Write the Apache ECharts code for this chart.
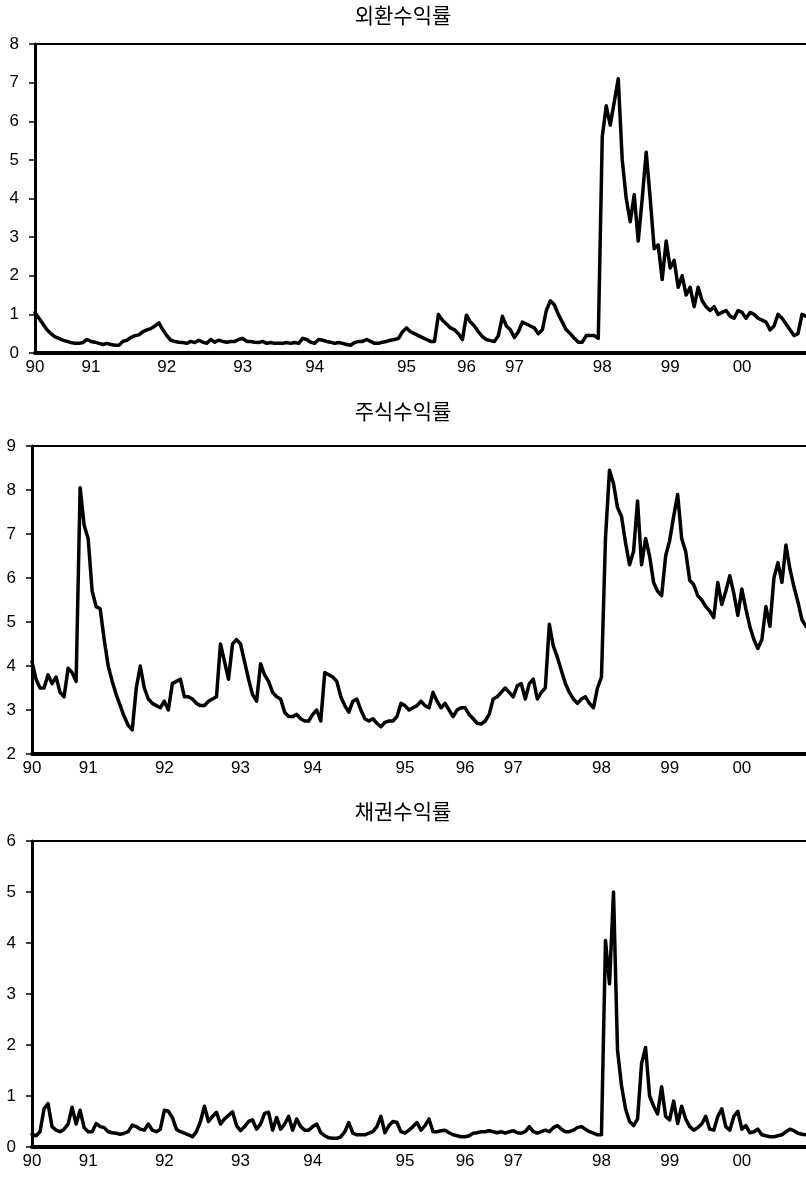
<!DOCTYPE html>
<html>
<head>
<meta charset="utf-8">
<script src="https://cdn.jsdelivr.net/npm/echarts@6/dist/echarts.min.js"></script>
<style>
html,body{margin:0;padding:0;background:#fff;}
#chart{width:806px;height:1177px;}
</style>
</head>
<body>
<div id="chart"></div>
<script>
// Observation index ticks and year labels
const tickIdx = [0, 14, 33, 52, 70, 93, 108, 120, 142, 159, 177];
const tickLabels = ['90', '91', '92', '93', '94', '95', '96', '97', '98', '99', '00'];

const titles = ['외환수익률', '주식수익률', '채권수익률'];

// 외환수익률
const fxValues = [
  1.05,0.9,0.75,0.6,0.5,0.42,0.38,0.33,0.3,0.27,
  0.25,0.25,0.27,0.35,0.3,0.28,0.25,0.22,0.25,0.22,
  0.2,0.2,0.3,0.33,0.4,0.45,0.47,0.55,0.6,0.63,
  0.7,0.78,0.6,0.45,0.33,0.3,0.28,0.27,0.25,0.3,
  0.27,0.33,0.28,0.25,0.35,0.28,0.33,0.3,0.28,0.3,
  0.3,0.35,0.38,0.3,0.3,0.28,0.27,0.3,0.25,0.27,
  0.25,0.25,0.25,0.27,0.25,0.27,0.25,0.38,0.35,0.28,
  0.25,0.35,0.33,0.3,0.28,0.25,0.27,0.25,0.22,0.2,
  0.27,0.3,0.3,0.35,0.3,0.25,0.25,0.28,0.3,0.33,
  0.35,0.38,0.55,0.65,0.55,0.5,0.45,0.4,0.35,0.3,
  0.3,1.0,0.85,0.75,0.65,0.6,0.5,0.35,0.98,0.8,
  0.7,0.55,0.42,0.35,0.32,0.3,0.45,0.95,0.7,0.6,
  0.4,0.55,0.8,0.75,0.7,0.65,0.5,0.6,1.1,1.35,
  1.25,1.0,0.8,0.6,0.5,0.38,0.28,0.28,0.45,0.45,
  0.45,0.38,5.6,6.4,5.9,6.5,7.1,5.0,4.0,3.4,
  4.1,2.9,4.0,5.2,4.0,2.7,2.8,1.9,2.9,2.2,
  2.4,1.7,2.0,1.5,1.7,1.2,1.7,1.35,1.2,1.1,
  1.2,1.0,1.05,1.1,0.95,0.9,1.1,1.05,0.9,1.05,
  1.0,0.9,0.85,0.8,0.6,0.7,1.0,0.9,0.75,0.6,
  0.45,0.5,1.0,0.95
];

// 주식수익률
const stockValues = [
  4.1,3.7,3.5,3.5,3.8,3.6,3.75,3.4,3.3,3.95,
  3.85,3.65,8.05,7.2,6.9,5.7,5.35,5.3,4.6,4.0,
  3.65,3.35,3.1,2.85,2.65,2.55,3.5,4.0,3.5,3.25,
  3.15,3.1,3.05,3.2,3.0,3.6,3.65,3.7,3.3,3.3,
  3.25,3.15,3.1,3.1,3.2,3.25,3.3,4.5,4.1,3.7,
  4.5,4.6,4.5,4.1,3.7,3.35,3.2,4.05,3.8,3.65,
  3.4,3.3,3.25,2.95,2.85,2.85,2.9,2.8,2.75,2.75,
  2.9,3.0,2.75,3.85,3.8,3.75,3.65,3.3,3.1,2.95,
  3.2,3.25,3.0,2.8,2.75,2.8,2.7,2.62,2.72,2.75,
  2.75,2.85,3.15,3.1,3.0,3.05,3.1,3.2,3.1,3.05,
  3.4,3.2,3.05,3.15,3.0,2.85,3.0,3.05,3.05,2.9,
  2.8,2.7,2.68,2.75,2.9,3.25,3.3,3.4,3.5,3.4,
  3.3,3.55,3.6,3.25,3.6,3.7,3.25,3.4,3.5,4.95,
  4.45,4.2,3.9,3.6,3.4,3.25,3.15,3.25,3.3,3.15,
  3.05,3.5,3.75,6.9,8.45,8.15,7.6,7.4,6.8,6.3,
  6.6,7.75,6.3,6.9,6.5,5.9,5.7,5.6,6.5,6.85,
  7.4,7.9,6.9,6.6,5.95,5.85,5.6,5.5,5.35,5.25,
  5.1,5.9,5.4,5.7,6.05,5.65,5.15,5.75,5.3,4.9,
  4.6,4.4,4.6,5.35,4.9,6.0,6.35,5.9,6.75,6.2,
  5.8,5.45,5.05,4.9
];

// 채권수익률
const bondValues = [
  0.25,0.22,0.3,0.75,0.85,0.4,0.33,0.3,0.35,0.45,
  0.78,0.45,0.72,0.38,0.3,0.3,0.46,0.4,0.38,0.3,
  0.28,0.27,0.25,0.27,0.3,0.43,0.4,0.35,0.33,0.45,
  0.33,0.3,0.35,0.72,0.7,0.58,0.35,0.3,0.27,0.24,
  0.2,0.3,0.5,0.8,0.5,0.6,0.68,0.45,0.55,0.62,
  0.69,0.42,0.32,0.4,0.5,0.53,0.35,0.45,0.66,0.68,
  0.33,0.58,0.35,0.45,0.6,0.33,0.55,0.4,0.33,0.33,
  0.4,0.45,0.28,0.22,0.18,0.17,0.17,0.2,0.3,0.48,
  0.27,0.24,0.24,0.24,0.27,0.3,0.4,0.6,0.28,0.42,
  0.5,0.48,0.3,0.27,0.33,0.4,0.48,0.33,0.42,0.55,
  0.3,0.3,0.32,0.33,0.28,0.24,0.22,0.2,0.2,0.22,
  0.27,0.28,0.3,0.3,0.32,0.3,0.28,0.3,0.27,0.3,
  0.32,0.28,0.27,0.3,0.4,0.3,0.27,0.3,0.33,0.3,
  0.38,0.42,0.35,0.3,0.3,0.33,0.38,0.4,0.35,0.3,
  0.27,0.24,0.24,4.05,3.2,5.0,1.9,1.2,0.75,0.5,
  0.42,0.55,1.64,1.95,1.0,0.8,0.65,1.18,0.6,0.53,
  0.9,0.46,0.8,0.55,0.4,0.33,0.38,0.45,0.6,0.35,
  0.33,0.6,0.75,0.4,0.33,0.6,0.7,0.35,0.42,0.28,
  0.3,0.35,0.24,0.22,0.2,0.2,0.22,0.24,0.3,0.35,
  0.32,0.27,0.25,0.24
];

const yRanges = [[0, 8], [2, 9], [0, 6]];
const seriesList = [fxValues, stockValues, bondValues];

// categories built from tick labels
const nObs = fxValues.length;
const categories = [];
for (let i = 0; i < nObs; i++) {
  const k = tickIdx.indexOf(i);
  categories.push(k >= 0 ? tickLabels[k] : '');
}
const tickSet = new Set(tickIdx);

const grids = [
  {left: 35, right: 0, top: 44, height: 309},
  {left: 32, right: 0, top: 446, height: 308},
  {left: 32, right: 0, top: 841, height: 306}
];
const titleTops = [5, 401, 801];

const labelFont = {fontFamily: 'Liberation Sans, Arial, sans-serif', fontSize: 17, color: '#000'};

const option = {
  backgroundColor: '#fff',
  animation: false,
  title: titles.map((t, k) => ({
    text: t, left: 'center', top: titleTops[k], padding: 0,
    textStyle: {fontFamily: 'Noto Sans CJK KR', fontSize: 21, fontWeight: 'normal', color: '#000'}
  })),
  grid: grids.map(g => Object.assign({outerBoundsMode: 'none', containLabel: false}, g)),
  xAxis: [],
  yAxis: [],
  series: []
};

for (let k = 0; k < 3; k++) {
  option.xAxis.push({
    type: 'category', gridIndex: k, data: categories, boundaryGap: false,
    axisLine: {show: true, lineStyle: {color: '#000', width: 4}},
    axisTick: {show: false},
    axisLabel: Object.assign({interval: (idx) => tickSet.has(idx), margin: 6}, labelFont),
    splitLine: {show: false}
  });
  option.xAxis.push({
    type: 'value', gridIndex: k, position: 'top', min: 0, max: 1,
    axisLine: {show: true, onZero: false, lineStyle: {color: '#000', width: 2}},
    axisTick: {show: false}, axisLabel: {show: false}, splitLine: {show: false}
  });
  option.yAxis.push({
    type: 'value', gridIndex: k, min: yRanges[k][0], max: yRanges[k][1], interval: 1,
    axisLine: {show: true, onZero: false, lineStyle: {color: '#000', width: 3}},
    axisTick: {show: true, inside: false, length: 6, lineStyle: {color: '#000', width: 1.5}},
    axisLabel: Object.assign({margin: 16}, labelFont),
    splitLine: {show: false}
  });
  option.series.push({
    type: 'line', xAxisIndex: k * 2, yAxisIndex: k, data: seriesList[k],
    symbol: 'none', lineStyle: {color: '#000', width: 3.5, join: 'round', cap: 'round'}, clip: true
  });
}

const chart = echarts.init(document.getElementById('chart'), null, {renderer: 'canvas'});
chart.setOption(option);
</script>
</body>
</html>
